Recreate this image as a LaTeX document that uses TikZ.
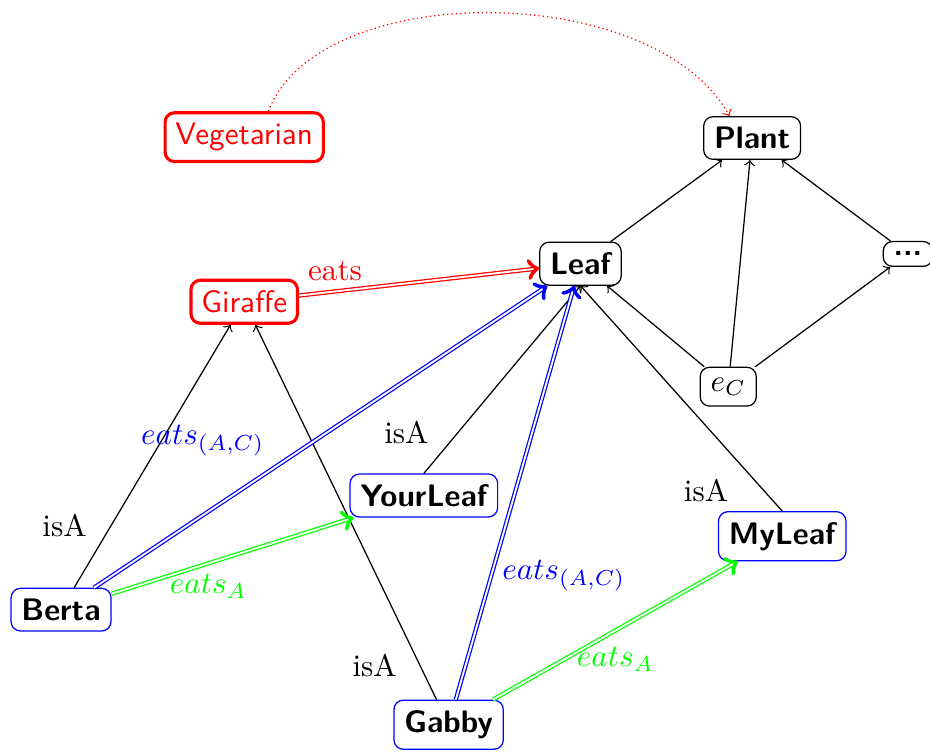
\documentclass[tikz,border=0pt]{standalone}
\usepackage{amsmath}
\usepackage{tikz}

\begin{document}
\begin{tikzpicture}[
    cls/.style={draw, rounded corners=3pt, font=\sffamily\bfseries},
    redcls/.style={draw=red, text=red, line width=1pt, rounded corners=3pt, font=\sffamily},
    inst/.style={draw=blue, rounded corners=3pt, font=\sffamily\bfseries},
    isa/.style={->},
    eatsto/.style={->, double, color=#1}
  ]
  \useasboundingbox (0,0) rectangle (10.51,8.49);
  % Classes
  \node[redcls] (veg) at (2.76,6.94) {Vegetarian};
  \node[redcls] (giraffe) at (2.76,5.08) {Giraffe};
  \node[cls] (plant) at (8.50,6.93) {Plant};
  \node[cls] (leaf) at (6.56,5.51) {Leaf};
  \node[cls] (dots) at (10.26,5.62) {...};
  \node[draw, rounded corners=3pt] (ec) at (8.23,4.12) {$e_C$};
  % Individuals
  \node[inst] (yourleaf) at (4.79,2.89) {YourLeaf};
  \node[inst] (myleaf) at (8.84,2.43) {MyLeaf};
  \node[inst] (berta) at (0.69,1.60) {Berta};
  \node[inst] (gabby) at (5.07,0.30) {Gabby};
  % Hierarchy
  \draw[isa] (leaf) -- (plant);
  \draw[isa] (dots) -- (plant);
  \draw[isa] (ec) -- (plant);
  \draw[isa] (ec) -- (leaf);
  \draw[isa] (ec) -- (dots);
  \draw[isa] (berta) -- node[pos=0.15, above left] {isA} (giraffe);
  \draw[isa] (gabby) -- node[pos=0.09, left=4pt] {isA} (giraffe);
  \draw[isa] (yourleaf.north) -- node[pos=0.1, above left] {isA} (leaf.south);
  \draw[isa] (myleaf.north) -- node[pos=0.09, left=8pt] {isA} (leaf.south);
  % Eats
  \draw[eatsto=red] (giraffe) -- node[pos=0.15, above] {eats} (leaf);
  \draw[eatsto=blue] (berta) -- node[pos=0.4, above left] {$eats_{(A,C)}$} (leaf);
  \draw[eatsto=green] (berta) -- node[pos=0.4, below] {$eats_A$} (yourleaf);
  \draw[eatsto=blue] (gabby) -- node[pos=0.3, right] {$eats_{(A,C)}$} (leaf);
  \draw[eatsto=green] (gabby) -- node[pos=0.5, below=2pt] {$eats_A$} (myleaf);
  % Vegetarian to Plant
  \draw[red, densely dotted, ->] (veg.47) .. controls +(0.57,1.50) and +(-0.85,1.54) .. (plant.136);
\end{tikzpicture}
\end{document}
